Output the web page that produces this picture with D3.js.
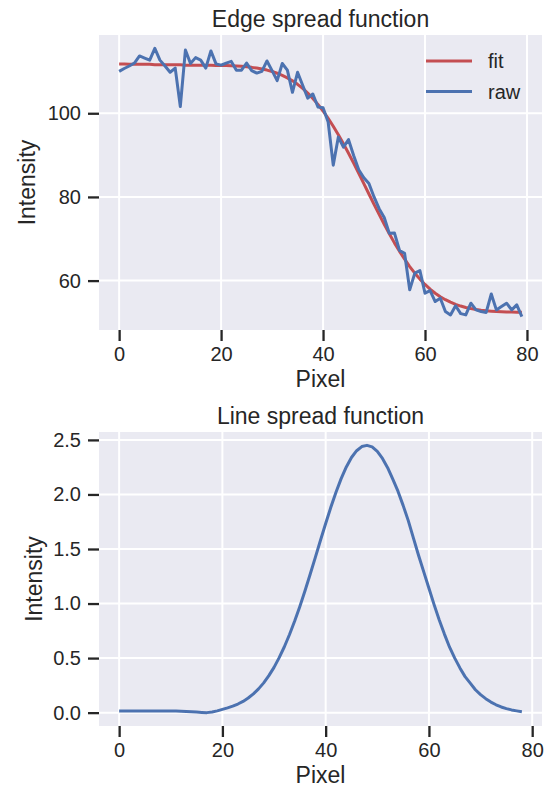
<!DOCTYPE html>
<html>
<head>
<meta charset="utf-8">
<script src="https://cdn.jsdelivr.net/npm/d3@7"></script>
<style>
  body { margin: 0; background: #fff; }
  svg { font-family: Arial, "Liberation Sans", sans-serif; display: block; }
</style>
</head>
<body>
<svg id="chart" width="545" height="789"></svg>
<script>
// ESF raw samples (pixel 0..79)
const espRaw = [
  110.0, 110.7, 111.3, 112.0, 113.7, 113.2, 112.7, 115.5, 112.7, 111.3,
  109.8, 110.8, 101.6, 115.1, 111.9, 113.3, 112.7, 110.8, 114.9, 111.8,
  111.5, 112.0, 112.4, 110.3, 110.3, 112.0, 110.2, 109.6, 110.0, 112.5,
  110.2, 107.8, 111.9, 110.3, 105.0, 109.8, 106.7, 103.6, 104.6, 101.5,
  101.3, 97.9, 87.6, 94.3, 91.9, 93.7, 89.9, 86.5, 84.6, 83.2,
  80.0, 77.2, 75.1, 71.3, 71.4, 67.2, 66.5, 57.8, 61.8, 62.4,
  57.0, 57.6, 55.0, 55.8, 52.6, 51.8, 54.0, 52.1, 51.8, 54.6,
  53.0, 52.6, 52.4, 56.8, 53.0, 53.8, 54.6, 53.0, 54.2, 51.4
];

// ESF fitted curve (pixel 0..79)
const espFit = [
  111.8, 111.8, 111.7, 111.7, 111.7, 111.7, 111.7, 111.6, 111.6, 111.6,
  111.6, 111.6, 111.6, 111.5, 111.5, 111.5, 111.5, 111.5, 111.46, 111.44,
  111.42, 111.39, 111.34, 111.28, 111.21, 111.11, 110.97, 110.80, 110.58, 110.32,
  109.98, 109.57, 109.07, 108.46, 107.75, 106.91, 105.94, 104.82, 103.55, 102.12,
  100.54, 98.79, 96.90, 94.88, 92.72, 90.44, 88.08, 85.66, 83.20, 80.70,
  78.24, 75.82, 73.46, 71.18, 69.02, 67.00, 65.11, 63.36, 61.78, 60.35,
  59.08, 57.96, 56.99, 56.15, 55.44, 54.84, 54.33, 53.92, 53.58, 53.32,
  53.10, 52.92, 52.79, 52.69, 52.61, 52.55, 52.50, 52.47, 52.44, 52.43
];

// LSF (pixel 0..78)
const lsf = [
  0.015, 0.015, 0.015, 0.015, 0.015, 0.015, 0.015, 0.015, 0.015, 0.015,
  0.015, 0.014, 0.013, 0.011, 0.008, 0.005, 0.002, 0.0, 0.006, 0.016,
  0.030, 0.044, 0.060, 0.079, 0.103, 0.134, 0.172, 0.218, 0.273, 0.339,
  0.415, 0.504, 0.604, 0.716, 0.840, 0.974, 1.118, 1.269, 1.423, 1.580,
  1.734, 1.882, 2.020, 2.145, 2.252, 2.339, 2.401, 2.439, 2.450, 2.436,
  2.395, 2.330, 2.245, 2.140, 2.030, 1.900, 1.760, 1.600, 1.440, 1.290,
  1.140, 0.990, 0.850, 0.720, 0.600, 0.500, 0.410, 0.330, 0.270, 0.210,
  0.165, 0.128, 0.097, 0.072, 0.052, 0.037, 0.025, 0.016, 0.008
];

const xTicks = [0, 20, 40, 60, 80];
const espYTicks = [60, 80, 100];
const lsfYTicks = [0, 0.5, 1.0, 1.5, 2.0, 2.5];
const legendLabels = ["fit", "raw"];

const RED = "#c44e52", BLUE = "#4c72b0", TEXT = "#262626", BG = "#eaeaf2";

const svg = d3.select("#chart");

// matplotlib style 5% margins
function padded(lo, hi) {
  const m = (hi - lo) * 0.05;
  return [lo - m, hi + m];
}

function panel(cfg) {
  const { top, bottom, left, right } = cfg;
  const g = svg.append("g");

  const x = d3.scaleLinear().domain(padded(0, cfg.xMax)).range([left, right]);
  const y = d3.scaleLinear().domain(padded(cfg.yMin, cfg.yMax)).range([bottom, top]);

  g.append("rect")
    .attr("x", left).attr("y", top)
    .attr("width", right - left).attr("height", bottom - top)
    .attr("fill", BG);

  // grid
  g.append("g").selectAll("line").data(cfg.xTicks).join("line")
    .attr("x1", d => x(d)).attr("x2", d => x(d))
    .attr("y1", top).attr("y2", bottom)
    .attr("stroke", "#fff").attr("stroke-width", 2);
  g.append("g").selectAll("line").data(cfg.yTicks).join("line")
    .attr("x1", left).attr("x2", right)
    .attr("y1", d => y(d)).attr("y2", d => y(d))
    .attr("stroke", "#fff").attr("stroke-width", 2);

  // lines
  const line = d3.line().x((d, i) => x(i)).y(d => y(d));
  cfg.series.forEach(s => {
    g.append("path")
      .datum(s.values)
      .attr("d", line)
      .attr("fill", "none")
      .attr("stroke", s.color)
      .attr("stroke-width", 3)
      .attr("stroke-linejoin", "round")
      .attr("stroke-linecap", "butt");
  });

  // axes
  const ax = g.append("g")
    .attr("transform", `translate(0,${bottom})`)
    .call(d3.axisBottom(x).tickValues(cfg.xTicks).tickSize(11).tickPadding(6).tickFormat(d3.format("d")));
  const ay = g.append("g")
    .attr("transform", `translate(${left},0)`)
    .call(d3.axisLeft(y).tickValues(cfg.yTicks).tickSize(11).tickPadding(7).tickFormat(cfg.yFormat));
  [ax, ay].forEach(a => {
    a.select(".domain").remove();
    a.selectAll(".tick line").attr("stroke", TEXT).attr("stroke-width", 2.3);
    a.selectAll(".tick text").attr("fill", TEXT).attr("font-size", 20).attr("font-family", null);
  });

  g.append("text")
    .attr("x", (left + right) / 2).attr("y", top - 8)
    .attr("text-anchor", "middle").attr("fill", TEXT).attr("font-size", 23)
    .text(cfg.title);
  g.append("text")
    .attr("x", (left + right) / 2).attr("y", bottom + 57)
    .attr("text-anchor", "middle").attr("fill", TEXT).attr("font-size", 23)
    .text("Pixel");
  g.append("text")
    .attr("transform", `translate(${cfg.yLabelX},${(top + bottom) / 2}) rotate(-90)`)
    .attr("dy", "0.35em")
    .attr("text-anchor", "middle").attr("fill", TEXT).attr("font-size", 23)
    .text("Intensity");

  return g;
}

const top1 = panel({
  top: 35, bottom: 330, left: 99, right: 542,
  xMax: espRaw.length - 1,
  yMin: d3.min(espRaw.concat(espFit)), yMax: d3.max(espRaw.concat(espFit)),
  xTicks, yTicks: espYTicks, yFormat: d3.format("d"),
  title: "Edge spread function", yLabelX: 27,
  series: [{ values: espFit, color: RED }, { values: espRaw, color: BLUE }]
});

// legend
const legend = top1.append("g").attr("transform", "translate(426,61)");
legend.selectAll("g").data(legendLabels).join("g")
  .attr("transform", (d, i) => `translate(0,${i * 30.5})`)
  .each(function (d, i) {
    const s = d3.select(this);
    s.append("line").attr("x1", 0).attr("x2", 46)
      .attr("stroke", i === 0 ? RED : BLUE).attr("stroke-width", 3);
    s.append("text").attr("x", 62).attr("dy", "0.35em")
      .attr("fill", TEXT).attr("font-size", 20).text(d);
  });

panel({
  top: 432, bottom: 726, left: 99, right: 542,
  xMax: lsf.length - 1,
  yMin: d3.min(lsf), yMax: d3.max(lsf),
  xTicks, yTicks: lsfYTicks, yFormat: d3.format(".1f"),
  title: "Line spread function", yLabelX: 34,
  series: [{ values: lsf, color: BLUE }]
});
</script>
</body>
</html>
